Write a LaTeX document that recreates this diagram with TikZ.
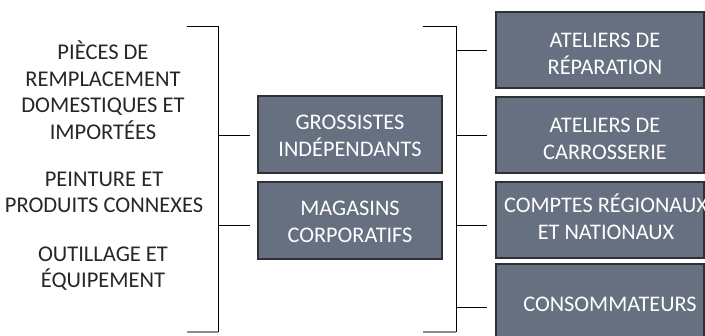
\documentclass[tikz,border=0pt]{standalone}
\usepackage{fontspec}
\setmainfont{Carlito}
\definecolor{boxfill}{HTML}{667080}
\definecolor{boxline}{HTML}{2E3035}
\begin{document}
\begin{tikzpicture}[x=1pt,y=-1pt,
  box/.style={draw=boxline, line width=1.3pt, fill=boxfill, inner sep=0pt},
  boxtext/.style={text=white, font=\fontsize{22.3}{27}\selectfont, align=center, inner sep=0pt},
  lefttext/.style={text=black!85, font=\fontsize{22.5}{26.5}\selectfont, align=center, inner sep=0pt},
  brk/.style={draw=black, line width=0.8pt},
  brkend/.style={draw=black!45, line width=1.6pt},
  tick/.style={draw=black, line width=0.8pt}]
\useasboundingbox (0,0) rectangle (705,336);
\clip (0,0) rectangle (705,336);
% left texts
\node[lefttext] (t1) at (103,90) {PIÈCES DE\\REMPLACEMENT\\DOMESTIQUES ET\\IMPORTÉES};
\node[lefttext] (t2) at (104,192.5) {PEINTURE ET\\PRODUITS CONNEXES};
\node[lefttext] (t3) at (103,268.5) {OUTILLAGE ET\\ÉQUIPEMENT};
% middle boxes
\node[box, minimum width=184, minimum height=77] (g1) at (350,134.5) {};
\node[boxtext] (g1t) at (350,136) {GROSSISTES\\INDÉPENDANTS};
\node[box, minimum width=184, minimum height=77] (g2) at (350,220.5) {};
\node[boxtext] (g2t) at (350,222) {MAGASINS\\CORPORATIFS};
% right boxes
\node[box, minimum width=208, minimum height=76] (r1) at (600,50) {};
\node[boxtext] (r1t) at (605,54) {ATELIERS DE\\RÉPARATION};
\node[box, minimum width=208, minimum height=76] (r2) at (600,135) {};
\node[boxtext] (r2t) at (605,139) {ATELIERS DE\\CARROSSERIE};
\node[box, minimum width=208, minimum height=76] (r3) at (600,220) {};
\node[boxtext] (r3t) at (606,217) {COMPTES RÉGIONAUX\\ET NATIONAUX};
\node[box, minimum width=208, minimum height=80] (r4) at (600,304) {};
\node[boxtext] (r4t) at (610,304) {CONSOMMATEURS};
% left bracket
\coordinate (lA) at (187,26);
\coordinate (lB) at (218,26);
\coordinate (lC) at (218,332);
\coordinate (lD) at (187,332);
\draw[brk] (lA) -- (lB) -- (lC);
\draw[brkend] (lC) -- (lD);
\coordinate (l1) at (218,135);
\coordinate (l2) at (218,225);
\draw[tick] (l1) -- ([xshift=-7pt]g1.west |- l1);
\draw[tick] (l2) -- ([xshift=-7pt]g2.west |- l2);
% right bracket
\coordinate (rA) at (423,26);
\coordinate (rB) at (456,26);
\coordinate (rC) at (456,332);
\coordinate (rD) at (423,332);
\draw[brk] (rA) -- (rB) -- (rC);
\draw[brkend] (rC) -- (rD);
\coordinate (q1) at (456,50);
\coordinate (q2) at (456,135);
\coordinate (q3) at (456,225);
\coordinate (q4) at (456,307);
\draw[tick] (q1) -- ([xshift=-8pt]r1.west |- q1);
\draw[tick] (q2) -- ([xshift=-8pt]r2.west |- q2);
\draw[tick] (q3) -- ([xshift=-8pt]r3.west |- q3);
\draw[tick] (q4) -- ([xshift=-8pt]r4.west |- q4);
\end{tikzpicture}
\end{document}
